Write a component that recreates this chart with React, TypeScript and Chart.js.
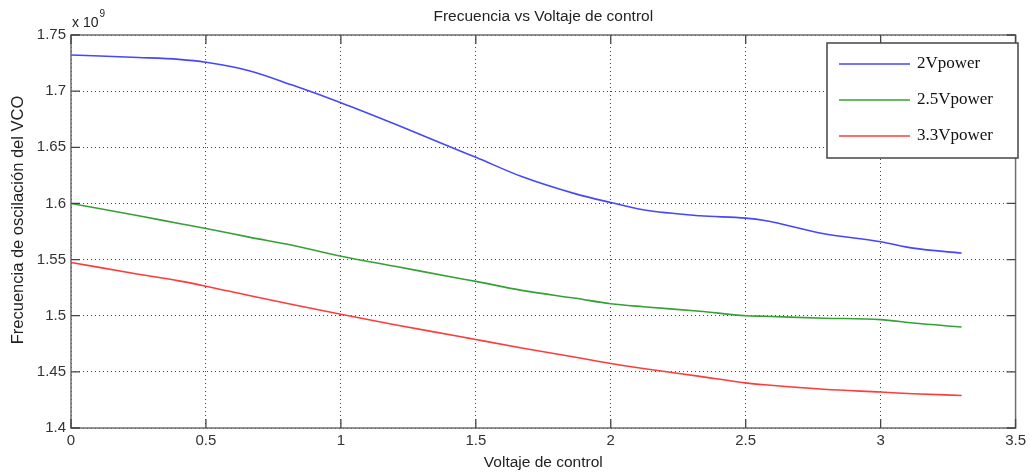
import React, { useEffect, useRef } from "react";
import { Chart, registerables } from "chart.js";

Chart.register(...registerables);

const chartTitle = "Frecuencia vs Voltaje de control";
const xAxisTitle = "Voltaje de control";
const yAxisTitle = "Frecuencia de oscilación del VCO";
const yExponentBase = "x 10";
const yExponent = "9";

const voltage = [0, 0.25, 0.4, 0.5, 0.66, 0.82, 1.0, 1.2, 1.44, 1.5, 1.67, 1.87, 2.0, 2.12, 2.33, 2.5, 2.57, 2.79, 3.0, 3.12, 3.3];
const seriesLabels = ["2Vpower", "2.5Vpower", "3.3Vpower"];
const seriesColors = ["#4646ff", "#36a036", "#ff3c3c"];
const freq2V = [1.7322, 1.73, 1.7283, 1.7257, 1.7182, 1.7054, 1.6897, 1.6707, 1.6469, 1.6411, 1.6239, 1.6085, 1.6008, 1.5943, 1.589, 1.5869, 1.5848, 1.573, 1.5659, 1.5602, 1.5558];
const freq25V = [1.6, 1.589, 1.5822, 1.5777, 1.57, 1.5628, 1.553, 1.544, 1.5332, 1.5306, 1.5226, 1.5155, 1.5107, 1.508, 1.504, 1.5, 1.4995, 1.4978, 1.4965, 1.4935, 1.49];
const freq33V = [1.5474, 1.537, 1.531, 1.5263, 1.518, 1.51, 1.5013, 1.492, 1.4815, 1.4788, 1.4713, 1.463, 1.4574, 1.453, 1.446, 1.4402, 1.4385, 1.4345, 1.432, 1.4305, 1.429];
const xTicks = [0, 0.5, 1, 1.5, 2, 2.5, 3, 3.5];
const yTicks = [1.4, 1.45, 1.5, 1.55, 1.6, 1.65, 1.7, 1.75];

const SANS = "'Liberation Sans', Arial, sans-serif";
const SERIF = "'Liberation Serif', 'Times New Roman', serif";

export default function App() {
  const ref = useRef<HTMLCanvasElement>(null);

  useEffect(() => {
    const canvas = ref.current!;
    const allSeries = [freq2V, freq25V, freq33V];

    const framePlugin = {
      id: "matlabFrame",
      afterDraw(chart: any) {
        const { ctx, chartArea } = chart;
        const { left, right, top, bottom } = chartArea;
        const xs = chart.scales.x;
        const ys = chart.scales.y;
        ctx.save();
        // frame
        ctx.strokeStyle = "#6e6e6e";
        ctx.lineWidth = 1.5;
        ctx.setLineDash([]);
        ctx.strokeRect(left, top, right - left, bottom - top);
        // inside ticks
        ctx.lineWidth = 1.3;
        ctx.strokeStyle = "#444";
        const tl = 9;
        xTicks.forEach((v) => {
          const px = xs.getPixelForValue(v);
          ctx.beginPath();
          ctx.moveTo(px, bottom);
          ctx.lineTo(px, bottom - tl);
          ctx.moveTo(px, top);
          ctx.lineTo(px, top + tl);
          ctx.stroke();
        });
        yTicks.forEach((v) => {
          const py = ys.getPixelForValue(v);
          ctx.beginPath();
          ctx.moveTo(left, py);
          ctx.lineTo(left + tl, py);
          ctx.moveTo(right, py);
          ctx.lineTo(right - tl, py);
          ctx.stroke();
        });
        // titles
        ctx.fillStyle = "#222";
        ctx.textAlign = "center";
        ctx.textBaseline = "middle";
        ctx.font = `15.5px ${SANS}`;
        ctx.fillText(chartTitle, (left + right) / 2, 17);
        ctx.fillText(xAxisTitle, (left + right) / 2, 463);
        ctx.save();
        ctx.translate(18, 220);
        ctx.rotate(-Math.PI / 2);
        ctx.font = `16.5px ${SANS}`;
        ctx.fillText(yAxisTitle, 0, 0);
        ctx.restore();
        // exponent
        ctx.textAlign = "left";
        ctx.textBaseline = "alphabetic";
        ctx.font = `14px ${SANS}`;
        ctx.fillText(yExponentBase, 72, 27);
        const w = ctx.measureText(yExponentBase).width;
        ctx.font = `10px ${SANS}`;
        ctx.fillText(yExponent, 72 + w + 1, 17);
        // legend
        const lx = 827, ly = 43, lw = 191, lh = 115;
        ctx.fillStyle = "#fff";
        ctx.fillRect(lx, ly, lw, lh);
        ctx.strokeStyle = "#444";
        ctx.lineWidth = 1.5;
        ctx.strokeRect(lx, ly, lw, lh);
        const rows = [64, 100, 136];
        seriesLabels.forEach((lab, i) => {
          ctx.strokeStyle = seriesColors[i];
          ctx.lineWidth = 1.6;
          ctx.beginPath();
          ctx.moveTo(839, rows[i]);
          ctx.lineTo(910, rows[i]);
          ctx.stroke();
          ctx.fillStyle = "#111";
          ctx.font = `17px ${SERIF}`;
          ctx.textBaseline = "middle";
          ctx.fillText(lab, 917, rows[i]);
        });
        ctx.restore();
      },
    };

    const chart = new Chart(canvas, {
      type: "line",
      data: {
        datasets: seriesLabels.map((lab, i) => ({
          label: lab,
          data: voltage.map((v, j) => ({ x: v, y: allSeries[i][j] })),
          borderColor: seriesColors[i],
          borderWidth: 1.6,
          pointRadius: 0,
          fill: false,
          cubicInterpolationMode: "monotone" as const,
        })),
      },
      options: {
        responsive: false,
        animation: false,
        layout: { padding: { top: 35, right: 13, left: 0, bottom: 0 } },
        plugins: { legend: { display: false }, title: { display: false }, tooltip: { enabled: false } },
        scales: {
          x: {
            type: "linear",
            min: 0,
            max: 3.5,
            afterFit: (s: any) => { s.height = 46; },
            afterBuildTicks: (s: any) => { s.ticks = xTicks.map((v) => ({ value: v })); },
            ticks: {
              color: "#333",
              font: { family: SANS, size: 15 },
              padding: 4,
              maxRotation: 0,
              callback: (v: any) => String(Number(Number(v).toFixed(2))),
            },
            grid: { color: "#444", lineWidth: 1, drawTicks: false },
            border: { display: false, dash: [1, 3] },
          },
          y: {
            type: "linear",
            min: 1.4,
            max: 1.75,
            afterFit: (s: any) => { s.width = 71; },
            afterBuildTicks: (s: any) => { s.ticks = yTicks.map((v) => ({ value: v })); },
            ticks: {
              color: "#333",
              font: { family: SANS, size: 15 },
              padding: 5,
              callback: (v: any) => String(Number(Number(v).toFixed(2))),
            },
            grid: { color: "#444", lineWidth: 1, drawTicks: false },
            border: { display: false, dash: [1, 3] },
          },
        },
      },
      plugins: [framePlugin],
    });
    return () => chart.destroy();
  }, []);

  return (
    <div style={{ position: "fixed", left: 0, top: 0, width: 1030, height: 474, background: "#fff" }}>
      <canvas ref={ref} width={1030} height={474} style={{ width: 1030, height: 474, display: "block" }} />
    </div>
  );
}
